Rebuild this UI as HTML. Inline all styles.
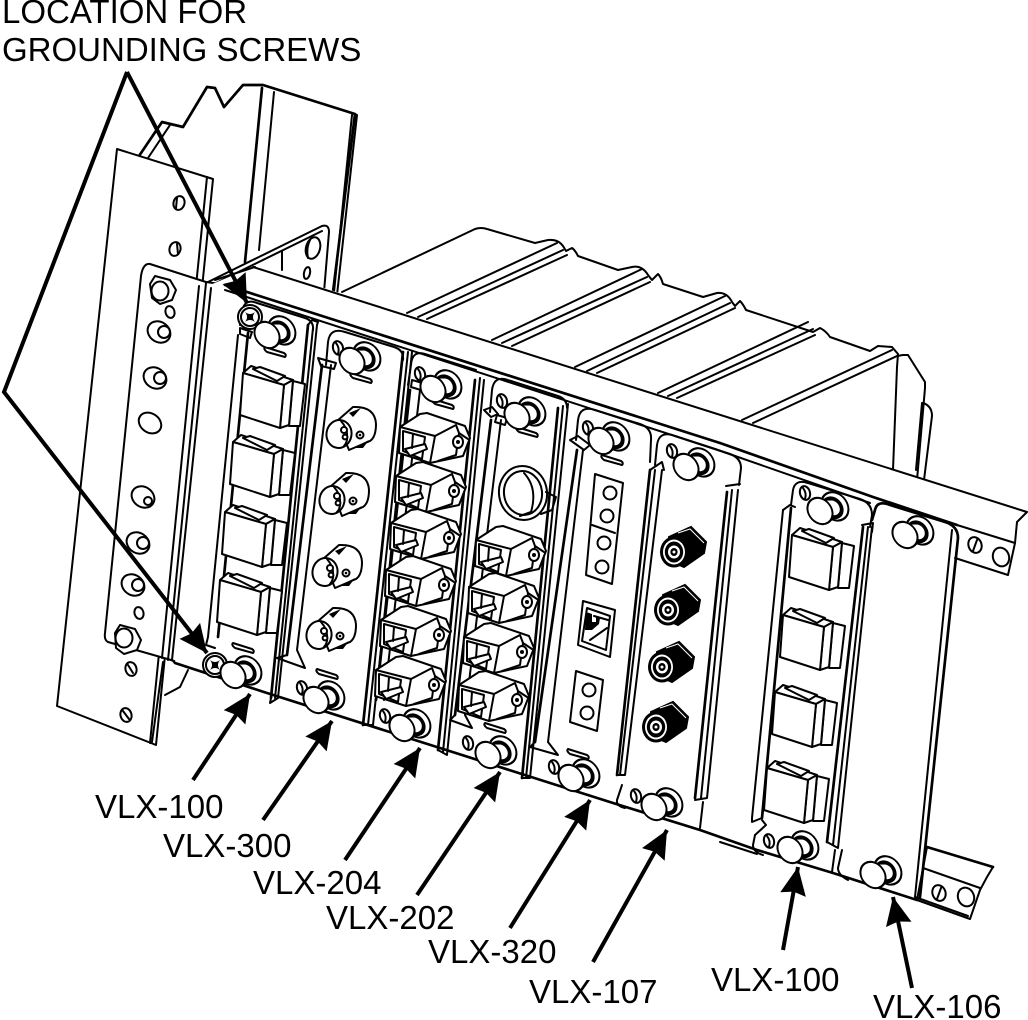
<!DOCTYPE html>
<html><head><meta charset="utf-8"><style>
html,body{margin:0;padding:0;background:#fff}
svg{display:block}
.l{fill:#fff;stroke:#000;stroke-width:2;stroke-linejoin:round;stroke-linecap:round}
.n{fill:none;stroke:#000;stroke-width:2;stroke-linejoin:round;stroke-linecap:round}
.t{fill:none;stroke:#000;stroke-width:2.7;stroke-linejoin:round;stroke-linecap:round}
.a{fill:none;stroke:#000;stroke-width:4}
text{font-family:"Liberation Sans",Arial,sans-serif;font-size:33px;fill:#000}
</style></head><body>
<svg width="1028" height="1020" viewBox="0 0 1028 1020" xmlns="http://www.w3.org/2000/svg">
<defs>
<marker id="ah" markerUnits="userSpaceOnUse" markerWidth="34" markerHeight="30" refX="28" refY="14" orient="auto"><path d="M0 1L28 14L0 27L3 14Z" fill="#000"/></marker>
<g id="k"><g transform="matrix(1,.316,-.095,1,0,0)"><circle cx="14" cy="-9" r="13.5" class="l" stroke-width="2.4"/><circle cx="12" cy="-7" r="9" fill="#fff" stroke="#000" stroke-width="3.8"/><path d="M0 -12L11 -14L13 3L2 12Z" fill="#fff"/><path d="M2 -12L11 -15M3 12L13 4" class="n"/><circle r="12.5" class="l"/></g></g>
<g id="h"><ellipse rx="5" ry="7" transform="rotate(-15)" class="l" stroke-width="2.4"/><path d="M-2 -5Q2 0 0 6" class="n" stroke-width="1"/></g>
<path id="tab" d="M-10 -4L9 2Q12 4 10 6L-8 1Q-12 -2 -10 -4Z" class="l"/>
<g id="s"><circle r="12" class="l" stroke-width="2.4"/><circle r="9" class="l"/><path d="M-5 -5Q0 -1 5 -5Q1 0 5 5Q0 1 -5 5Q-1 0 -5 -5Z" fill="#000"/></g>
<g id="sc">
<path d="M50 8L62 11L57 53L46 53Z" class="l"/>
<path d="M0 0L8 -7L50 7L41 12Z" class="l"/>
<path d="M10 -4L17 -6L42 3L34 8Z" class="l"/>
<path d="M41 12L50 7L46 52L37 55Z" class="l"/>
<path d="M0 0L41 12L37 55L-3 42Z" class="l"/>
</g>
<g id="lc">
<path d="M0 0L20 -13L27 -14L65 -1L70 11L63 29L30 36Z" class="l" stroke-width="2.4"/>
<path d="M35 9L56 -2L59 6L56 28L38 34M59 6L68 12" class="n" stroke-width="1.8"/>
<path d="M0 0L35 9L30 36L-1 26Z" class="l" stroke-width="2.6"/>
<path d="M3 4L25 10L22 32L3 24Z" class="l"/>
<path d="M5 22L25 17L27 22L10 29Z" class="l"/>
<path d="M13 7L12 21" class="n"/>
<ellipse cx="58" cy="15" rx="5" ry="6" class="l"/><circle cx="58" cy="15" r="2" fill="#000"/>
</g>
<g id="bnc">
<path d="M-2 -13L14 -27Q36 -28 37 -10Q37 3 31 7L10 16Z" class="l"/>
<path d="M10 -21L22 -26L14 -17Z" fill="#000"/><path d="M14 14L30 6L24 14Z" fill="#000"/>
<ellipse cx="0" cy="0" rx="12.5" ry="14" transform="rotate(10)" class="l" stroke-width="3"/>
<path d="M2 -13Q8 -6 8 0Q9 8 5 12" class="n" stroke-width="1.6"/>
<circle cx="5" cy="-4" r="3" class="l"/><circle cx="6" cy="3" r="2.4" class="l"/>
<circle cx="21" cy="1" r="3.5" class="l"/><circle cx="21" cy="1" r="1.3"/>
</g>
<g id="f">
<path d="M17 -25L32 -10L30 1L10 15L-6 8L-5 -15Z" fill="#000" stroke="#000" stroke-width="2"/>
<path d="M4 -19L16 -23L30 -9" fill="none" stroke="#fff" stroke-width="1"/>
<ellipse rx="14" ry="15.5" fill="#000"/>
<ellipse rx="11" ry="12.5" fill="#fff"/>
<ellipse rx="9.2" ry="10.5" fill="#000"/>
<ellipse rx="6" ry="6.5" fill="#fff"/>
<ellipse rx="3.6" ry="4" fill="#000"/>
<circle r="1.5" fill="#fff"/>
</g>
</defs>

<!-- rear bracket -->
<path class="t" d="M139 156L162 122L183 127L207 87L215 88L224 107L243 85L263 85L355 114L333 292"/>
<path class="n" d="M355 114L357 115L337 295"/>
<path class="n" d="M148 158L170 125"/>
<path class="t" d="M262 88L245 262"/>
<path class="n" d="M274 92L259 250"/>
<path class="n" d="M352 115L334 292"/>
<!-- flange ear -->
<path class="l" d="M206 283L322 226Q329 224 329 232L324 292L250 290Z"/>
<path class="n" d="M212 285L322 231"/>
<path class="n" d="M282 251L282 270"/>
<ellipse cx="313" cy="248" rx="7" ry="11" transform="rotate(15 313 248)" class="l"/>
<path class="n" d="M310 240Q306 248 308 258"/>
<ellipse cx="307" cy="273" rx="3" ry="6" transform="rotate(12 307 273)" class="l"/>

<!-- rear housing -->
<path class="n" stroke-width="2.4" d="M342 292L475 229Q481 227 487 229L535 243L548 240Q558 239 563 246L566 251L572 248Q575 250 578 256L618 270L632 267Q642 265 648 275L652 280L658 274Q661 277 663 284L703 297L717 293Q727 292 732 302L735 306L740 301Q743 304 746 310L813 332L820 328Q826 331 830 337L870 351L878 346L892 347L898 354L897 367L893 470"/>
<path class="n" d="M897 356L903 355L908 355L925 382L925 388L917 480"/>
<path class="n" d="M923 403Q932 406 932 416L924 480"/>
<path class="n" d="M922 403L916 470"/>
<path class="n" d="M407 313L557 243M418 317L563 250M427 319L567 255"/>
<path class="n" d="M492 340L642 269M502 343L647 277M512 346L650 282"/>
<path class="n" d="M575 367L725 296M587 371L730 303M597 373L735 308"/>
<path class="n" d="M658 393L808 322M668 396L813 329M677 398L815 335"/>
<path class="n" d="M742 420L892 350M753 423L897 356"/>

<!-- left plate -->
<path class="l" d="M117 149L213 179L156 745L57 706Z"/>
<path class="n" d="M207 177L150 743"/>
<ellipse cx="179" cy="203" rx="5.5" ry="7" transform="rotate(15 179 203)" class="l"/><path class="n" d="M177 198L176 208" stroke-width="1"/>
<ellipse cx="175" cy="249" rx="5.5" ry="7" transform="rotate(15 175 249)" class="l"/><path class="n" d="M177 244L178 254" stroke-width="1"/>
<ellipse cx="131" cy="669" rx="5.5" ry="7" transform="rotate(-15 131 669)" class="l"/><path class="n" d="M128 665L133 673" stroke-width="1"/>
<ellipse cx="126" cy="715" rx="5.5" ry="7" transform="rotate(-15 126 715)" class="l"/><path class="n" d="M123 711L129 719" stroke-width="1"/>

<!-- ear plate of chassis -->
<path class="l" d="M150 264L206 282L220 284L200 670L171 660L108 642Q104 640 105 633L141 276Q143 263 150 264Z"/>
<path class="n" d="M206 283L168 660"/>
<path class="n" d="M199 286L162 658"/>
<path class="n" d="M163 662L152 742M188 670L180 687L165 695"/>
<path class="l" d="M155 276L170 280L176 290L172 300L160 304L152 298L150 284Z" stroke-width="2.4"/>
<ellipse cx="160" cy="291" rx="8.5" ry="9.5" class="l" stroke-width="3"/>
<path class="l" d="M120 625L135 629L141 640L137 650L124 654L116 648L115 633Z" stroke-width="2.4"/>
<ellipse cx="124" cy="638" rx="8.5" ry="9.5" class="l" stroke-width="3"/>
<ellipse cx="170" cy="312" rx="4.5" ry="6" transform="rotate(-15 170 312)" class="l" stroke-width="2.6"/>
<ellipse cx="159" cy="332" rx="12" ry="10" transform="rotate(35 159 332)" class="l" stroke-width="2.6"/><circle cx="164" cy="332" r="6" class="n" stroke-width="1.2"/>
<ellipse cx="155" cy="378" rx="12" ry="10" transform="rotate(35 155 378)" class="l" stroke-width="2.6"/><circle cx="160" cy="378" r="6" class="n" stroke-width="1.2"/>
<ellipse cx="150" cy="423" rx="12" ry="9.5" transform="rotate(35 150 423)" class="l" stroke-width="2.6"/>
<ellipse cx="143" cy="497" rx="12" ry="10" transform="rotate(35 143 497)" class="l" stroke-width="2.6"/><circle cx="148" cy="501" r="4" class="n" stroke-width="1.2"/>
<ellipse cx="138" cy="543" rx="12" ry="10" transform="rotate(35 138 543)" class="l" stroke-width="2.6"/><circle cx="143" cy="543" r="6" class="n" stroke-width="1.2"/>
<ellipse cx="133" cy="585" rx="12" ry="10" transform="rotate(35 133 585)" class="l" stroke-width="2.6"/><circle cx="138" cy="585" r="6" class="n" stroke-width="1.2"/>
<ellipse cx="139" cy="613" rx="4.5" ry="6" transform="rotate(-15 139 613)" class="l" stroke-width="2.2"/>

<!-- front panel body -->
<path d="M210 285L255 266L1027 512L1017 522L1015 543L1008 575L957 558L920 900L760 852L175 663Z" fill="#fff"/>
<path class="n" d="M253 267L1027 512L1017 522L1015 543L1008 575L955 558" stroke-width="2.6"/>
<path class="n" d="M215 280L255 267"/>
<path class="t" d="M225 285L720 443L873 497L957 525"/>
<path class="n" d="M225 290L715 449L870 503"/>
<path class="n" d="M1015 543L957 525"/>
<path class="n" d="M211 288L172 660L175 663"/>
<path class="t" d="M175 663L267 693L440 748L613 803L700 830L757 850L833 873L917 900"/>
<path class="n" d="M720 842L757 854"/>
<ellipse cx="975" cy="545" rx="6.5" ry="8" transform="rotate(-20 975 545)" class="l" stroke-width="2.6"/><path class="n" d="M977 540L973 551" stroke-width="1.2"/>
<ellipse cx="1001" cy="557" rx="8" ry="9.5" transform="rotate(-20 1001 557)" class="l"/>

<!-- bottom right flange -->
<path class="l" d="M927 847L993 867L987 877L980 890L970 919L917 900Z"/>
<path class="t" d="M927 847L993 867"/>
<path class="n" d="M923 868L980 888"/>
<path class="n" d="M915 897L968 916"/>
<ellipse cx="939" cy="893" rx="6.5" ry="8" transform="rotate(-20 939 893)" class="l" stroke-width="2.6"/><path class="n" d="M941 888L937 899" stroke-width="1.2"/>
<ellipse cx="966" cy="897" rx="8" ry="9.5" transform="rotate(-20 966 897)" class="l"/>

<!-- rails -->
<path class="n" d="M238 335L208 637L206 645L215 648"/><path class="t" d="M248 333L218 637"/>
<path class="n" d="M240 328L252 332L250 338L240 334Z"/>
<path class="t" d="M308 325L271 698"/><path class="n" d="M317 325L278 698L270 703L271 698"/><path class="n" d="M313 328L275 698"/><path class="n" d="M308 325L312 320L318 322L317 325"/>
<path class="t" d="M322 365L287 655"/><path class="n" d="M331 365L297 650L305 668L277 658L287 655"/><path class="n" d="M318 358L336 363L334 369L321 366Z"/>
<path class="t" d="M403 352L363 725"/><path class="n" d="M412 352L373 725L363 725"/><path class="n" d="M408 352L368 725"/>
<path class="t" d="M410 390L376 700"/><path class="n" d="M420 390L384 700"/><path class="n" d="M412 380L426 384L424 391L411 387Z"/>
<path class="t" d="M475 380L438 750"/><path class="n" d="M484 380L447 755L438 750"/><path class="n" d="M480 378L443 752"/>
<path class="t" d="M491 420L455 715"/><path class="n" d="M501 420L465 715L472 728L450 720L455 715"/><path class="n" d="M497 415L507 418L505 425L495 422Z"/><path class="n" d="M484 410L492 407L498 414L491 417Z"/>
<path class="t" d="M558 408L522 778"/><path class="n" d="M568 404L530 778L522 778"/><path class="n" d="M563 406L526 778"/>
<path class="t" d="M577 450L535 742"/><path class="n" d="M583 450L548 742L558 755L530 747L535 742"/><path class="n" d="M570 440L578 436L590 445L584 450Z"/>
<path class="t" d="M650 470L617 775"/><path class="n" d="M662 470L625 775L617 775"/><path class="n" d="M655 470L620 775"/><path class="n" d="M650 470L662 462L664 470"/>
<path class="t" d="M727 492L695 798"/><path class="n" d="M738 490L707 798L695 800"/><path class="n" d="M732 490L701 798"/><path class="n" d="M726 486L740 484"/>
<path class="n" d="M783 510L752 818L752 822L762 818"/><path class="t" d="M791 508L762 818"/><path class="n" d="M783 510L790 505L795 507"/>
<path class="t" d="M863 527L827 842"/><path class="n" d="M872 527L838 848L827 842"/><path class="n" d="M868 527L833 845"/><path class="n" d="M862 525L873 523L872 532"/>
<path class="n" d="M762 820L766 825L755 835"/>

<!-- card outlines -->
<path class="n" d="M240 325L242 312Q244 298 257 303L305 318Q314 321 313 330"/>
<path class="n" d="M326 365L328 342Q330 327 345 332L394 347Q404 350 403 360"/>
<path class="n" d="M408 385L411 365Q412 350 425 354L476 370"/>
<path class="n" d="M490 412L492 390Q494 375 508 380L558 396Q567 399 567 408"/>
<path class="n" d="M576 440L578 420Q580 405 595 410L640 424Q652 428 651 440L650 462"/>
<path class="n" d="M655 465L657 445Q659 430 675 436L730 454Q741 458 741 468L739 485"/>
<path class="n" d="M791 505L793 490Q795 479 808 483L860 499Q872 503 872 515L870 527"/>
<path class="t" d="M872 520L875 510Q877 500 890 505L945 522Q958 526 958 538L920 897"/>
<path class="n" d="M952 530L915 897"/>
<path class="n" d="M622 785L617 800Q616 806 625 808"/>
<path class="n" d="M755 835L753 845Q753 852 763 855"/>
<path class="n" d="M842 850L838 868Q838 875 848 880"/>
<path class="n" d="M835 850L832 872"/>
<path class="n" d="M703 802L700 828"/>

<!-- small holes -->
<use href="#h" x="338" y="348"/><use href="#h" x="420" y="374"/><use href="#h" x="502" y="401"/><use href="#h" x="588" y="428"/><use href="#h" x="672" y="451"/><use href="#h" x="805" y="493"/>
<use href="#h" x="302" y="688"/><use href="#h" x="385" y="716"/><use href="#h" x="468" y="743"/><use href="#h" x="554" y="767"/><use href="#h" x="636" y="796"/><use href="#h" x="769" y="841"/>

<!-- screws -->
<use href="#s" x="250" y="317"/><use href="#s" x="215" y="665"/>

<!-- tabs -->
<use href="#tab" x="275" y="351"/><use href="#tab" x="361" y="377"/><use href="#tab" x="443" y="403"/><use href="#tab" x="527" y="431"/><use href="#tab" x="612" y="459"/>
<use href="#tab" x="243" y="647"/><use href="#tab" x="327" y="673"/><use href="#tab" x="495" y="727"/><use href="#tab" x="578" y="753"/>

<!-- SC connectors card 1 -->
<use href="#sc" x="243" y="373"/><use href="#sc" x="233" y="442"/><use href="#sc" x="225" y="512"/><use href="#sc" x="220" y="580"/>
<!-- BNC card 2 -->
<use href="#bnc" x="339" y="434"/><use href="#bnc" x="332" y="500"/><use href="#bnc" x="325" y="572"/><use href="#bnc" x="319" y="635"/>
<!-- LC card 3 -->
<use href="#lc" x="400" y="427"/><use href="#lc" x="396" y="476"/><use href="#lc" x="391" y="523"/><use href="#lc" x="386" y="570"/><use href="#lc" x="381" y="620"/><use href="#lc" x="376" y="670"/>
<!-- card 4 -->
<ellipse cx="523" cy="493" rx="24" ry="27" transform="rotate(-8 523 493)" class="l" stroke-width="3"/>
<ellipse cx="523" cy="493" rx="19" ry="22" transform="rotate(-8 523 493)" class="l" stroke-width="3"/>
<path class="n" d="M524 473Q538 488 531 512L520 516"/>
<path class="n" d="M546 492L556 497L552 510L541 514"/>
<use href="#lc" x="476" y="540"/><use href="#lc" x="469" y="587"/><use href="#lc" x="464" y="637"/><use href="#lc" x="459" y="685"/>
<!-- card 5 -->
<path class="l" d="M595 474L623 483L612 584L586 575Z" stroke-width="2.8"/>
<path class="n" d="M592 525L615 533" stroke-width="2.4"/>
<circle cx="610" cy="493" r="6.5" class="l"/><circle cx="607" cy="516" r="6.5" class="l"/><circle cx="604" cy="543" r="6.5" class="l"/><circle cx="602" cy="567" r="6.5" class="l"/>
<path class="l" d="M583 601L615 610L610 657L578 645Z" stroke-width="2.8"/>
<path class="n" d="M587 608L610 616L606 650L582 641Z"/>
<path d="M586 612L592 614L592 622L596 622L596 616L600 618L599 624L592 630L585 630Z" fill="#000"/>
<path class="n" d="M590 640L607 628M594 616L608 620"/>
<path class="l" d="M576 671L603 680L597 731L570 722Z" stroke-width="2.8"/>
<circle cx="589" cy="690" r="6.5" class="l"/><circle cx="587" cy="713" r="6.5" class="l"/>
<!-- card 6 -->
<use href="#f" x="674" y="552"/><use href="#f" x="668" y="610"/><use href="#f" x="662" y="667"/><use href="#f" x="656" y="727"/>
<!-- card 8 -->
<use href="#sc" x="792" y="535"/><use href="#sc" x="783" y="615"/><use href="#sc" x="775" y="692"/><use href="#sc" x="767" y="768"/>

<!-- knobs -->
<use href="#k" x="267" y="335"/><use href="#k" x="352" y="361"/><use href="#k" x="433" y="389"/><use href="#k" x="517" y="416"/><use href="#k" x="601" y="441"/><use href="#k" x="686" y="467"/><use href="#k" x="820" y="511"/><use href="#k" x="905" y="535"/>
<use href="#k" x="233" y="675"/><use href="#k" x="316" y="700"/><use href="#k" x="402" y="728"/><use href="#k" x="488" y="755"/><use href="#k" x="571" y="778"/><use href="#k" x="654" y="807"/><use href="#k" x="790" y="850"/><use href="#k" x="873" y="875"/>

<!-- arrows -->
<path class="a" d="M127 72L247 303" marker-end="url(#ah)"/>
<path class="a" d="M127 72L4 392L207 653" marker-end="url(#ah)"/>
<path class="a" d="M193 780L250 694" marker-end="url(#ah)"/>
<path class="a" d="M263 820L332 721" marker-end="url(#ah)"/>
<path class="a" d="M345 860L420 748" marker-end="url(#ah)"/>
<path class="a" d="M417 895L500 772" marker-end="url(#ah)"/>
<path class="a" d="M510 928L590 800" marker-end="url(#ah)"/>
<path class="a" d="M593 962L667 830" marker-end="url(#ah)"/>
<path class="a" d="M783 950L798 867" marker-end="url(#ah)"/>
<path class="a" d="M912 988L893 897" marker-end="url(#ah)"/>

<!-- labels -->
<text x="2" y="23">LOCATION FOR</text>
<text x="2" y="61">GROUNDING SCREWS</text>
<text x="95" y="818">VLX-100</text>
<text x="163" y="857">VLX-300</text>
<text x="253" y="894">VLX-204</text>
<text x="326" y="929">VLX-202</text>
<text x="428" y="963">VLX-320</text>
<text x="529" y="1003">VLX-107</text>
<text x="711" y="991">VLX-100</text>
<text x="873" y="1018">VLX-106</text>
</svg>
</body></html>
